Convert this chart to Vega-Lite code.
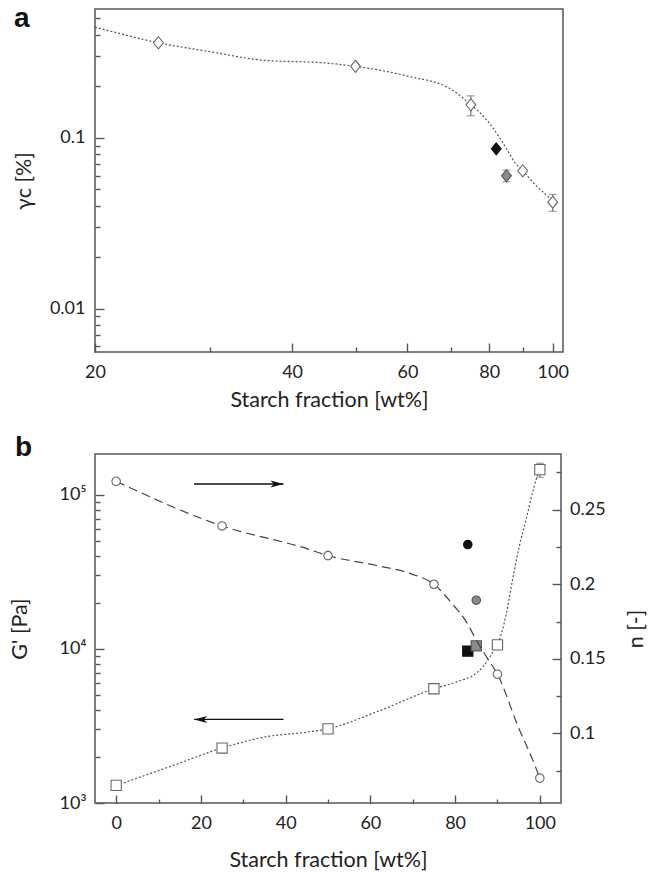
{
  "$schema": "https://vega.github.io/schema/vega-lite/v6.json",
  "background": "white",
  "padding": {"left": 8, "top": 4, "right": 5, "bottom": 0},
  "spacing": 21,
  "datasets": {
    "a_pts": [
      {"x": 25, "y": 0.36, "kind": "open"},
      {"x": 50, "y": 0.262, "kind": "open"},
      {"x": 75, "y": 0.156, "low": 0.1345, "high": 0.176, "kind": "open"},
      {"x": 90, "y": 0.0641, "kind": "open"},
      {"x": 100, "y": 0.042, "low": 0.0371, "high": 0.0466, "kind": "open"},
      {"x": 82, "y": 0.0862, "kind": "black"},
      {"x": 85, "y": 0.0599, "low": 0.0553, "high": 0.0647, "kind": "gray"}
    ],
    "a_curve": [
      {"x": 20, "y": 0.445}, {"x": 25, "y": 0.36}, {"x": 30, "y": 0.319}, {"x": 36, "y": 0.285},
      {"x": 45, "y": 0.274}, {"x": 50, "y": 0.262}, {"x": 60, "y": 0.2298}, {"x": 70, "y": 0.192},
      {"x": 75, "y": 0.156}, {"x": 77.6, "y": 0.139}, {"x": 80, "y": 0.122}, {"x": 82.7, "y": 0.102},
      {"x": 85.2, "y": 0.085}, {"x": 87.7, "y": 0.071}, {"x": 90, "y": 0.0641}, {"x": 94.2, "y": 0.0528},
      {"x": 100, "y": 0.043}
    ],
    "b_G": [
      {"x": 0, "G": 1300, "kind": "open"},
      {"x": 25, "G": 2273, "kind": "open"},
      {"x": 50, "G": 3030, "kind": "open"},
      {"x": 75, "G": 5510, "kind": "open"},
      {"x": 90, "G": 10630, "kind": "open"},
      {"x": 100, "G": 145700, "low": 130000, "high": 160300, "kind": "open"},
      {"x": 83, "G": 9680, "kind": "black"},
      {"x": 85, "G": 10470, "kind": "gray"}
    ],
    "b_n": [
      {"x": 0, "n": 0.269, "kind": "open"},
      {"x": 25, "n": 0.2391, "kind": "open"},
      {"x": 50, "n": 0.2192, "kind": "open"},
      {"x": 75, "n": 0.2, "kind": "open"},
      {"x": 90, "n": 0.1397, "kind": "open"},
      {"x": 100, "n": 0.0701, "kind": "open"},
      {"x": 83, "n": 0.2266, "kind": "black"},
      {"x": 85, "n": 0.1893, "kind": "gray"}
    ],
    "b_Gcurve": [
      {"x": 0, "G": 1300}, {"x": 12.5, "G": 1715}, {"x": 25, "G": 2273}, {"x": 35, "G": 2680},
      {"x": 45.2, "G": 2886}, {"x": 50, "G": 3030}, {"x": 61.7, "G": 3926}, {"x": 75, "G": 5510},
      {"x": 80.2, "G": 6090}, {"x": 85.3, "G": 7070}, {"x": 87.7, "G": 8410}, {"x": 88.9, "G": 9530},
      {"x": 90, "G": 10630}, {"x": 92, "G": 16470}, {"x": 93.6, "G": 28490}, {"x": 95.2, "G": 46830},
      {"x": 96.8, "G": 69800}, {"x": 98.3, "G": 104000}, {"x": 99.3, "G": 130000}, {"x": 100, "G": 145700}
    ],
    "b_ncurve": [
      {"x": 0, "n": 0.269}, {"x": 25, "n": 0.2391}, {"x": 45.2, "n": 0.2237}, {"x": 50, "n": 0.2192},
      {"x": 61.7, "n": 0.2125}, {"x": 69.6, "n": 0.207}, {"x": 75, "n": 0.2}, {"x": 79.8, "n": 0.1853},
      {"x": 82.2, "n": 0.1768}, {"x": 85.3, "n": 0.1612}, {"x": 87.7, "n": 0.15}, {"x": 90, "n": 0.1397},
      {"x": 94.8, "n": 0.1052}, {"x": 98.7, "n": 0.0796}, {"x": 100, "n": 0.0701}
    ],
    "arrow_n": [{"x1": 18.4, "x2": 39.5, "v": 0.2672}],
    "arrow_G": [{"x1": 18.4, "x2": 39.5, "v": 3484}]
  },
  "vconcat": [
    {
      "width": 468,
      "height": 343,
      "title": {"text": "a", "anchor": "start", "frame": "group", "orient": "top", "offset": -46, "dx": -81, "baseline": "alphabetic"},
      "encoding": {
        "x": {"field": "x", "type": "quantitative", "title": "Starch fraction [wt%]",
          "scale": {"type": "log", "domain": [20, 103.7], "nice": false},
          "axis": {"values": [20, 30, 40, 50, 60, 70, 80, 90, 100],
            "labelExpr": "(datum.value == 20 || datum.value == 40 || datum.value == 60 || datum.value == 80 || datum.value == 100) ? datum.value + '' : ''",
            "tickSize": {"condition": {"test": "datum.value == 20 || datum.value == 40 || datum.value == 60 || datum.value == 80 || datum.value == 100", "value": -9}, "value": -5},
            "labelPadding": 20, "titlePadding": 4}}
      },
      "layer": [
        {
          "data": {"name": "a_curve"},
          "mark": {"type": "line", "interpolate": "monotone", "strokeDash": [2, 2], "color": "#555", "strokeWidth": 1.2},
          "encoding": {
            "y": {"field": "y", "type": "quantitative", "title": "γc [%]",
              "scale": {"type": "log", "domain": [0.00557, 0.5675], "nice": false},
              "axis": {"values": [0.006, 0.007, 0.008, 0.009, 0.01, 0.02, 0.03, 0.04, 0.05, 0.06, 0.07, 0.08, 0.09, 0.1, 0.2, 0.3, 0.4, 0.5],
                "labelExpr": "datum.value == 0.01 ? '0.01' : (datum.value == 0.1 ? '0.1' : '')",
                "tickSize": {"condition": {"test": "datum.value == 0.01 || datum.value == 0.1", "value": -9}, "value": -5},
                "labelPadding": 19, "titlePadding": 14}}
          }
        },
        {
          "data": {"name": "a_pts"},
          "transform": [{"filter": "isValid(datum.low)"}],
          "mark": {"type": "rule", "color": "#777", "strokeWidth": 1.2},
          "encoding": {"y": {"field": "low", "type": "quantitative"}, "y2": {"field": "high"}}
        },
        {
          "data": {"name": "a_pts"},
          "transform": [{"filter": "isValid(datum.low)"}, {"fold": ["low", "high"], "as": ["end", "yv"]}],
          "mark": {"type": "tick", "orient": "horizontal", "color": "#777", "size": 8, "thickness": 1.2},
          "encoding": {"y": {"field": "yv", "type": "quantitative"}}
        },
        {
          "data": {"name": "a_pts"},
          "mark": {"type": "point", "filled": true, "shape": "M0,-1.1L0.9,0L0,1.1L-0.9,0Z", "size": 120, "strokeWidth": 1.1, "opacity": 1},
          "encoding": {
            "y": {"field": "y", "type": "quantitative"},
            "fill": {"field": "kind", "type": "nominal", "scale": {"domain": ["open", "black", "gray"], "range": ["white", "#111111", "#8a8a8a"]}, "legend": null},
            "stroke": {"field": "kind", "type": "nominal", "scale": {"domain": ["open", "black", "gray"], "range": ["#666666", "#111111", "#555555"]}, "legend": null}
          }
        }
      ]
    },
    {
      "width": 466,
      "height": 349,
      "title": {"text": "b", "anchor": "start", "frame": "group", "orient": "top", "offset": -30, "dx": -80, "baseline": "alphabetic"},
      "encoding": {
        "x": {"field": "x", "type": "quantitative", "title": "Starch fraction [wt%]",
          "scale": {"domain": [-5, 105], "nice": false, "zero": false},
          "axis": {"values": [0, 10, 20, 30, 40, 50, 60, 70, 80, 90, 100],
            "labelExpr": "datum.value % 20 == 0 ? datum.value + '' : ''",
            "tickSize": {"condition": {"test": "datum.value % 20 == 0", "value": -8}, "value": -4},
            "labelPadding": 19, "titlePadding": 13}}
      },
      "resolve": {"scale": {"y": "independent"}},
      "layer": [
        {
          "encoding": {
            "y": {"field": "G", "type": "quantitative", "title": "G' [Pa]",
              "scale": {"type": "log", "domain": [1000, 184000], "nice": false},
              "axis": {"values": [1000, 2000, 3000, 4000, 5000, 6000, 7000, 8000, 9000, 10000, 20000, 30000, 40000, 50000, 60000, 70000, 80000, 90000, 100000],
                "labelExpr": "datum.value == 1000 ? '10³' : (datum.value == 10000 ? '10⁴' : (datum.value == 100000 ? '10⁵' : ''))",
                "tickSize": {"condition": {"test": "datum.value == 1000 || datum.value == 10000 || datum.value == 100000", "value": -9}, "value": -5},
                "labelPadding": 18, "titlePadding": 28}}
          },
          "layer": [
            {
              "data": {"name": "b_Gcurve"},
              "mark": {"type": "line", "interpolate": "monotone", "strokeDash": [2, 2], "color": "#555", "strokeWidth": 1.2}
            },
            {
              "data": {"name": "arrow_G"},
              "mark": {"type": "rule", "color": "#111", "strokeWidth": 1.3},
              "encoding": {"x": {"field": "x1", "type": "quantitative"}, "x2": {"field": "x2"}, "y": {"field": "v", "type": "quantitative"}}
            },
            {
              "data": {"name": "arrow_G"},
              "mark": {"type": "point", "filled": true, "shape": "M0,0L2,-0.55L1.5,0L2,0.55Z", "size": 169, "color": "#111", "opacity": 1},
              "encoding": {"x": {"field": "x1", "type": "quantitative"}, "y": {"field": "v", "type": "quantitative"}}
            },
            {
              "data": {"name": "b_G"},
              "transform": [{"filter": "isValid(datum.low)"}],
              "mark": {"type": "rule", "color": "#777", "strokeWidth": 1.2},
              "encoding": {"y": {"field": "low", "type": "quantitative"}, "y2": {"field": "high"}}
            },
            {
              "data": {"name": "b_G"},
              "transform": [{"filter": "isValid(datum.low)"}, {"fold": ["low", "high"], "as": ["end", "yv"]}],
              "mark": {"type": "tick", "orient": "horizontal", "color": "#777", "size": 8, "thickness": 1.2},
              "encoding": {"y": {"field": "yv", "type": "quantitative"}}
            },
            {
              "data": {"name": "b_G"},
              "mark": {"type": "point", "filled": true, "shape": "square", "size": 105, "strokeWidth": 1.1, "opacity": 1},
              "encoding": {
                "fill": {"field": "kind", "type": "nominal", "scale": {"domain": ["open", "black", "gray"], "range": ["white", "#111111", "#8a8a8a"]}, "legend": null},
                "stroke": {"field": "kind", "type": "nominal", "scale": {"domain": ["open", "black", "gray"], "range": ["#666666", "#111111", "#555555"]}, "legend": null}
              }
            }
          ]
        },
        {
          "encoding": {
            "y": {"field": "n", "type": "quantitative", "title": "n [-]",
              "scale": {"domain": [0.0534, 0.2873], "nice": false, "zero": false},
              "axis": {"orient": "right", "values": [0.075, 0.1, 0.125, 0.15, 0.175, 0.2, 0.225, 0.25, 0.275],
                "labelExpr": "datum.value == 0.1 ? '0.1' : (datum.value == 0.15 ? '0.15' : (datum.value == 0.2 ? '0.2' : (datum.value == 0.25 ? '0.25' : '')))",
                "tickSize": {"condition": {"test": "datum.value == 0.1 || datum.value == 0.15 || datum.value == 0.2 || datum.value == 0.25", "value": -9}, "value": -5},
                "labelPadding": 17.5, "titlePadding": 20, "titleAngle": 270, "titleBaseline": "top"}}
          },
          "layer": [
            {
              "data": {"name": "b_ncurve"},
              "mark": {"type": "line", "interpolate": "monotone", "strokeDash": [9, 5], "color": "#444", "strokeWidth": 1.2}
            },
            {
              "data": {"name": "arrow_n"},
              "mark": {"type": "rule", "color": "#111", "strokeWidth": 1.3},
              "encoding": {"x": {"field": "x1", "type": "quantitative"}, "x2": {"field": "x2"}, "y": {"field": "v", "type": "quantitative"}}
            },
            {
              "data": {"name": "arrow_n"},
              "mark": {"type": "point", "filled": true, "shape": "M0,0L-2,-0.55L-1.5,0L-2,0.55Z", "size": 169, "color": "#111", "opacity": 1},
              "encoding": {"x": {"field": "x2", "type": "quantitative"}, "y": {"field": "v", "type": "quantitative"}}
            },
            {
              "data": {"name": "b_n"},
              "mark": {"type": "point", "filled": true, "shape": "circle", "size": 72, "strokeWidth": 1.1, "opacity": 1},
              "encoding": {
                "fill": {"field": "kind", "type": "nominal", "scale": {"domain": ["open", "black", "gray"], "range": ["white", "#111111", "#8a8a8a"]}, "legend": null},
                "stroke": {"field": "kind", "type": "nominal", "scale": {"domain": ["open", "black", "gray"], "range": ["#666666", "#111111", "#555555"]}, "legend": null}
              }
            }
          ]
        }
      ]
    }
  ],
  "config": {
    "font": "Lato",
    "view": {"stroke": "#555", "strokeWidth": 1.5},
    "axis": {"domain": false, "grid": false, "tickColor": "#555", "tickWidth": 1.4,
      "labelFont": "Lato", "labelFontSize": 18, "labelColor": "#222", "labelFlush": false, "labelOverlap": false,
      "titleFont": "Lato", "titleFontSize": 21.5, "titleFontWeight": "normal", "titleColor": "#222"},
    "title": {"font": "Liberation Sans", "fontSize": 28, "fontWeight": "bold", "color": "#111"}
  }
}
